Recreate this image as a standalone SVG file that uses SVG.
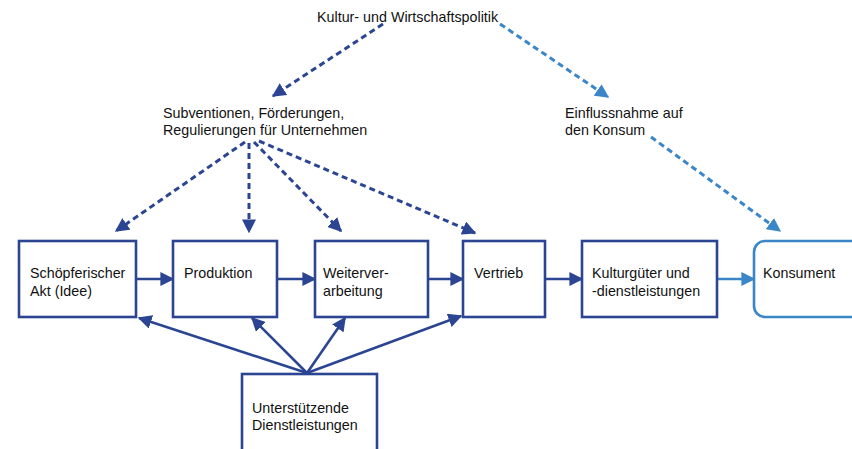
<svg xmlns="http://www.w3.org/2000/svg" width="852" height="449" viewBox="0 0 852 449">
<defs>
<style>
text{font-family:"Liberation Sans",Arial,sans-serif;font-size:14.3px;fill:#111}
.box{fill:#fff;stroke:#2b4592;stroke-width:2.6}
.lbox{fill:#fff;stroke:#3b86c8;stroke-width:2.6}
.s{stroke:#2b4592;stroke-width:2.6;fill:none;marker-end:url(#ad)}
.sl{stroke:#3b86c8;stroke-width:2.6;fill:none;marker-end:url(#al)}
.d{stroke:#2b4592;stroke-width:3;fill:none;stroke-dasharray:6 4;marker-end:url(#ad)}
.dl{stroke:#3b86c8;stroke-width:3;fill:none;stroke-dasharray:6 4;marker-end:url(#al)}
</style>
<marker id="ad" viewBox="0 0 10 10" refX="9" refY="5" markerWidth="14" markerHeight="14" orient="auto" markerUnits="userSpaceOnUse"><path d="M0,0L10,5L0,10z" fill="#2b4592"/></marker>
<marker id="al" viewBox="0 0 10 10" refX="9" refY="5" markerWidth="14" markerHeight="14" orient="auto" markerUnits="userSpaceOnUse"><path d="M0,0L10,5L0,10z" fill="#3b86c8"/></marker>
</defs>
<rect width="852" height="449" fill="#fff"/>
<g id="connectors">
<path class="d" d="M383,24L273,96"/>
<path class="dl" d="M500,24L608,97"/>
<path class="dl" d="M651,137L780,231"/>
<path class="d" d="M245,142L116,231"/>
<path class="d" d="M249,143L249,232"/>
<path class="d" d="M254,142L341,231"/>
<path class="d" d="M259,141L475,233"/>
<path class="s" d="M136,279L173,279"/>
<path class="s" d="M277,279L315,279"/>
<path class="s" d="M428,279L463,279"/>
<path class="s" d="M545,279L582,279"/>
<path class="sl" d="M717,279L754,279"/>
<path class="s" d="M307,373L139,318"/>
<path class="s" d="M307,373L252,318"/>
<path class="s" d="M307,373L345,318"/>
<path class="s" d="M307,373L461,316"/>
</g>
<g id="kultur"><text x="317" y="22">Kultur- und Wirtschaftspolitik</text></g>
<g id="subventionen"><text x="163" y="118">Subventionen, Förderungen,</text><text x="163" y="135">Regulierungen für Unternehmen</text></g>
<g id="einfluss"><text x="565" y="118">Einflussnahme auf</text><text x="565" y="135">den Konsum</text></g>
<g id="schoepf"><rect class="box" x="19" y="241" width="117" height="76"/><text x="30" y="278">Schöpferischer</text><text x="30" y="296">Akt (Idee)</text></g>
<g id="produktion"><rect class="box" x="173" y="241" width="104" height="76"/><text x="184" y="278">Produktion</text></g>
<g id="weiter"><rect class="box" x="315" y="241" width="113" height="76"/><text x="323" y="278">Weiterver-</text><text x="323" y="296">arbeitung</text></g>
<g id="vertrieb"><rect class="box" x="463" y="241" width="82" height="76"/><text x="474" y="278">Vertrieb</text></g>
<g id="kulturgueter"><rect class="box" x="582" y="241" width="135" height="76"/><text x="592" y="278">Kulturgüter und</text><text x="592" y="296">-dienstleistungen</text></g>
<g id="konsument"><rect class="lbox" x="754" y="241" width="110" height="76" rx="11"/><text x="763" y="278">Konsument</text></g>
<g id="unterstuetzend"><rect class="box" x="242" y="374" width="135" height="90"/><text x="252" y="413">Unterstützende</text><text x="252" y="430">Dienstleistungen</text></g>
</svg>
